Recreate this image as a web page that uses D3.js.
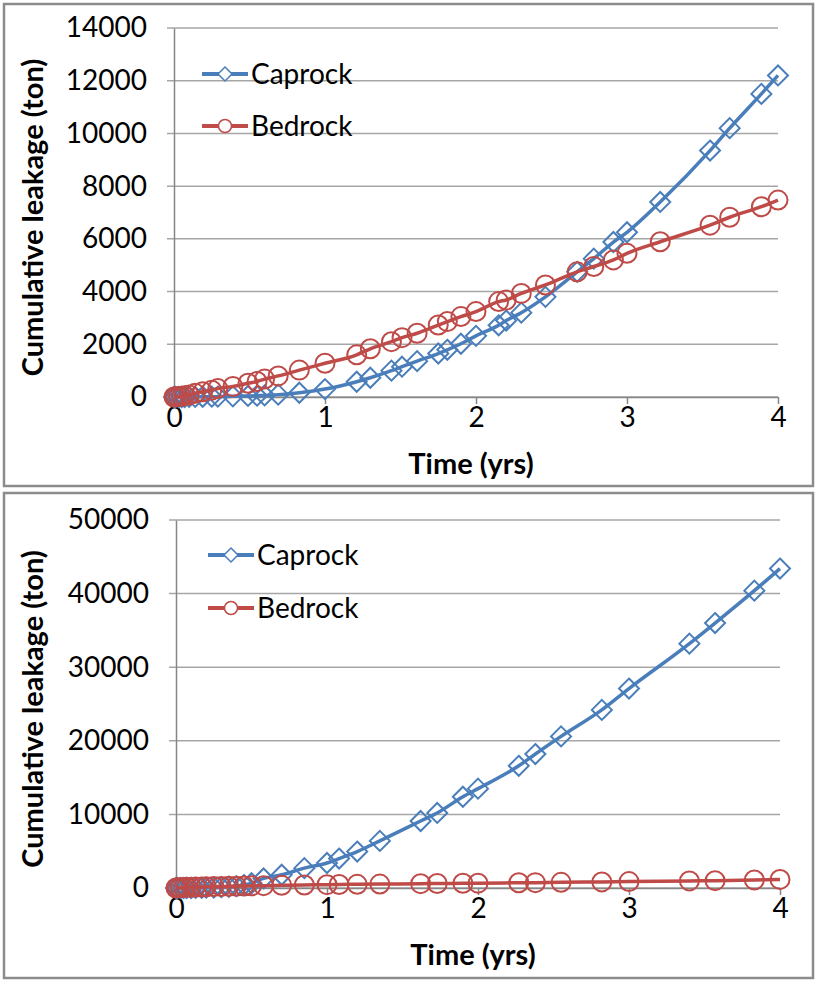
<!DOCTYPE html>
<html>
<head>
<meta charset="utf-8">
<script src="https://cdn.jsdelivr.net/npm/d3@7"></script>
<style>
  body { margin: 0; background: #fff; }
  svg text { font-family: Lato, "Open Sans", sans-serif; fill: #000; }
</style>
</head>
<body>
<svg id="chart" width="817" height="982"></svg>
<script>
// Top panel data (times in yrs, leakage in ton)
var timeTop = [0, 0.01, 0.03, 0.05, 0.07, 0.1, 0.14, 0.19, 0.25, 0.29, 0.39, 0.49, 0.55, 0.6, 0.69, 0.83,
    1.0, 1.21, 1.3, 1.44, 1.51, 1.61, 1.75, 1.81, 1.9, 2.0, 2.15, 2.2, 2.3, 2.46, 2.67, 2.78, 2.91, 3.0,
    3.22, 3.55, 3.68, 3.89, 4.0];
var caprockTop = [0, 0, 0, 0, 0, 2, 5, 8, 12, 15, 25, 40, 50, 60, 90, 160,
    300, 580, 730, 1000, 1150, 1360, 1650, 1790, 2020, 2320, 2720, 2900, 3200, 3800, 4750, 5250, 5880, 6250,
    7400, 9350, 10200, 11500, 12200];
var bedrockTop = [0, 5, 15, 30, 50, 80, 140, 200, 260, 320, 400, 520, 590, 680, 800, 1020,
    1280, 1600, 1830, 2100, 2250, 2420, 2730, 2860, 3050, 3240, 3620, 3680, 3930, 4250, 4750, 4950, 5200, 5450,
    5890, 6520, 6820, 7220, 7470];

// Bottom panel data
var timeBottom = [0, 0.01, 0.03, 0.05, 0.07, 0.1, 0.13, 0.17, 0.2, 0.25, 0.3, 0.35, 0.4, 0.45, 0.5, 0.58,
    0.7, 0.85, 1.0, 1.08, 1.2, 1.35, 1.62, 1.73, 1.9, 2.0, 2.27, 2.38, 2.55, 2.82, 3.0, 3.4, 3.57, 3.83, 4.0];
var caprockBottom = [0, 0, 0, 0, 0, 0, 10, 20, 40, 70, 110, 170, 250, 400, 650, 1300,
    1800, 2700, 3400, 4000, 4950, 6400, 9100, 10200, 12400, 13500, 16600, 18200, 20600, 24200, 27100, 33200, 36000, 40400, 43400];
var bedrockBottom = [0, 20, 50, 70, 90, 110, 130, 150, 170, 190, 210, 230, 250, 270, 290, 320,
    360, 410, 450, 480, 500, 530, 590, 610, 640, 660, 710, 730, 770, 830, 870, 960, 1000, 1100, 1170];

// Axis ticks and labels
var xTicks = [0, 1, 2, 3, 4];
var yTicksTop = [0, 2000, 4000, 6000, 8000, 10000, 12000, 14000];
var yTicksBottom = [0, 10000, 20000, 30000, 40000, 50000];
var seriesNames = ["Caprock", "Bedrock"];
var xTitle = "Time (yrs)";
var yTitle = "Cumulative leakage (ton)";

var svg = d3.select("#chart");
var blue = "#4A7EBB", red = "#BE4B48", gridColor = "#A6A6A6", axisColor = "#868686";

// Excel style hollow diamond
function diamond(s) {
    return "M0," + (-s) + "L" + s + ",0L0," + s + "L" + (-s) + ",0Z";
}

function drawMarkers(g, data, x, y, color, shape) {
    var sel = g.selectAll(null).data(data).enter();
    if (shape === "diamond") {
        sel.append("path")
            .attr("d", diamond(10))
            .attr("transform", function (d) { return "translate(" + x(d.t) + "," + y(d.v) + ")"; })
            .attr("fill", "none")
            .attr("stroke", color)
            .attr("stroke-width", 2);
    } else {
        sel.append("circle")
            .attr("cx", function (d) { return x(d.t); })
            .attr("cy", function (d) { return y(d.v); })
            .attr("r", 9.5)
            .attr("fill", "none")
            .attr("stroke", color)
            .attr("stroke-width", 2);
    }
}

// Builds one panel
function LeakageChart(box, plot, times, caprock, bedrock, yTicks, legend) {
    // panel frame
    svg.append("rect")
        .attr("x", box.x).attr("y", box.y)
        .attr("width", box.w).attr("height", box.h)
        .attr("fill", "#fff")
        .attr("stroke", "#8C8C8C")
        .attr("stroke-width", 2.5);

    var x = d3.scaleLinear().domain([0, 4]).range([plot.left, plot.right]);
    var y = d3.scaleLinear().domain([0, yTicks[yTicks.length - 1]]).range([plot.bottom, plot.top]);

    var g = svg.append("g");

    // gridlines (they poke out left of the axis like tick marks)
    g.selectAll(null)
        .data(yTicks)
        .enter()
        .append("line")
        .attr("x1", plot.left - 7)
        .attr("x2", plot.right)
        .attr("y1", function (d) { return y(d); })
        .attr("y2", function (d) { return y(d); })
        .attr("stroke", gridColor)
        .attr("stroke-width", 1.5);

    // y axis
    var yAxis = g.append("g")
        .attr("transform", "translate(" + plot.left + ",0)")
        .call(d3.axisLeft(y).tickValues(yTicks).tickSize(0).tickPadding(27).tickFormat(d3.format("d")));
    yAxis.select(".domain").attr("stroke", axisColor).attr("stroke-width", 1.5);
    yAxis.selectAll("text").style("font-size", "28px");

    // x axis
    var xAxis = g.append("g")
        .attr("transform", "translate(0," + plot.bottom + ")")
        .call(d3.axisBottom(x).tickValues(xTicks).tickFormat(d3.format("d"))
            .tickSize(7).tickSizeOuter(0).tickPadding(3));
    xAxis.select(".domain").attr("stroke", axisColor).attr("stroke-width", 1.5);
    xAxis.selectAll(".tick line").attr("stroke", axisColor).attr("stroke-width", 1.5);
    xAxis.selectAll("text").style("font-size", "28px");

    // axis titles
    g.append("text")
        .attr("x", (plot.left + plot.right) / 2 - 5)
        .attr("y", plot.bottom + 77)
        .attr("text-anchor", "middle")
        .style("font-size", "29px")
        .style("font-weight", "bold")
        .text(xTitle);

    g.append("text")
        .attr("transform", "translate(" + (box.x + 39) + "," + ((plot.top + plot.bottom) / 2 + 5) + ") rotate(-90)")
        .attr("text-anchor", "middle")
        .style("font-size", "29px")
        .style("font-weight", "bold")
        .text(yTitle);

    // series
    var capData = times.map(function (t, i) { return { t: t, v: caprock[i] }; });
    var bedData = times.map(function (t, i) { return { t: t, v: bedrock[i] }; });

    var line = d3.line()
        .x(function (d) { return x(d.t); })
        .y(function (d) { return y(d.v); })
        .curve(d3.curveMonotoneX);

    g.append("path").datum(capData)
        .attr("d", line).attr("fill", "none")
        .attr("stroke", blue).attr("stroke-width", 3.5);
    drawMarkers(g, capData, x, y, blue, "diamond");

    g.append("path").datum(bedData)
        .attr("d", line).attr("fill", "none")
        .attr("stroke", red).attr("stroke-width", 3.5);
    drawMarkers(g, bedData, x, y, red, "circle");

    // legend
    var colors = [blue, red];
    seriesNames.forEach(function (name, i) {
        var ly = legend.y + i * legend.gap;
        g.append("line")
            .attr("x1", legend.x).attr("x2", legend.x + 46)
            .attr("y1", ly).attr("y2", ly)
            .attr("stroke", colors[i]).attr("stroke-width", 4);
        if (i === 0) {
            g.append("path")
                .attr("d", diamond(7))
                .attr("transform", "translate(" + (legend.x + 23) + "," + ly + ")")
                .attr("fill", "#fff").attr("stroke", colors[i]).attr("stroke-width", 1.5);
        } else {
            g.append("circle")
                .attr("cx", legend.x + 23).attr("cy", ly).attr("r", 6.5)
                .attr("fill", "#fff").attr("stroke", colors[i]).attr("stroke-width", 1.5);
        }
        g.append("text")
            .attr("x", legend.x + 49)
            .attr("y", ly + 10)
            .style("font-size", "28px")
            .text(name);
    });
}

LeakageChart({ x: 4, y: 4, w: 809, h: 482 },
    { left: 174, right: 778, top: 28, bottom: 397 },
    timeTop, caprockTop, bedrockTop, yTicksTop, { x: 202, y: 74, gap: 52 });

LeakageChart({ x: 4, y: 493, w: 809, h: 485 },
    { left: 176, right: 780, top: 520, bottom: 888 },
    timeBottom, caprockBottom, bedrockBottom, yTicksBottom, { x: 208, y: 555, gap: 53 });
</script>
</body>
</html>
